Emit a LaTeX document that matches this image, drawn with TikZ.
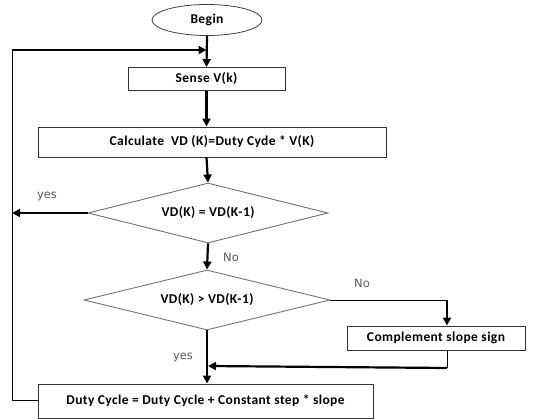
\documentclass[tikz,border=0pt]{standalone}
\usepackage{fontspec}
\usetikzlibrary{shapes.geometric,arrows.meta}
\newfontfamily\boxfont{Carlito}[LetterSpace=3]
\newfontfamily\labfont{DejaVu Sans}
\begin{document}
\begin{tikzpicture}[x=1pt,y=-1pt,
  every node/.style={inner sep=0pt},
  boxtext/.style={font=\boxfont\bfseries\fontsize{13.5}{16}\selectfont},
  procbox/.style={draw=black!80,line width=0.9pt,rectangle,boxtext},
  decbox/.style={draw=black!55,line width=0.9pt,diamond,aspect=4,boxtext},
  flow/.style={line width=2.2pt,-{Triangle[length=8pt,width=8pt]}},
  thinline/.style={line width=0.9pt},
  lab/.style={font=\labfont\fontsize{11.5}{13}\selectfont,text=black!65}]
\useasboundingbox (0,0) rectangle (541,419);
\node[draw=black!75,line width=0.8pt,ellipse,minimum width=110pt,minimum height=31pt,boxtext] (begin) at (207,20) {Begin};
\node[procbox,minimum width=157pt,minimum height=23pt] (sense) at (206.5,79) {Sense V(k)};
\node[procbox,minimum width=348pt,minimum height=30pt] (calc) at (212,142) {Calculate\ \ VD (K)=Duty Cyde * V(K)};
\node[decbox,minimum width=240pt,minimum height=60pt] (d1) at (208,213) {VD(K) = VD(K-1)};
\node[decbox,minimum width=246pt,minimum height=60pt] (d2) at (207,300) {VD(K) > VD(K-1)};
\node[procbox,minimum width=178pt,minimum height=24pt] (comp) at (436,338) {Complement slope sign};
\node[procbox,minimum width=335pt,minimum height=34pt] (duty) at (205.5,401) {Duty Cycle = Duty Cycle + Constant step * slope};
\coordinate (fbtop) at (12,50);
\coordinate (fbbot) at (12,400);
\coordinate (cr) at (447,300);
\coordinate (rb) at (447,368);
\coordinate (jn) at (208,366);
\draw[flow] (begin.south) -- (sense.north);
\draw[flow] (sense.south) -- (sense.south |- calc.north);
\draw[flow] (sense.south |- calc.south) -- (d1.north);
\draw[flow,line width=1.6pt] (d1.west) -- (fbtop |- d1.west);
\draw[flow] (d1.south) -- (d2.north);
\draw[thinline] (d2.east) -- (cr);
\draw[flow] (cr) -- (cr |- comp.north);
\draw[thinline] (cr |- comp.south) -- (rb);
\draw[flow] (rb) -- (jn);
\draw[flow] (d2.south) -- (d2.south |- duty.north);
\draw[thinline] (duty.west |- fbbot) -- (fbbot) -- (fbtop);
\draw[flow] (fbtop) -- (sense.north |- fbtop);
\node[lab] (yes1) at (47,196) {yes};
\node[lab] (no1) at (231,257) {No};
\node[lab] (no2) at (362,283) {No};
\node[lab] (yes2) at (183,357) {yes};
\end{tikzpicture}
\end{document}
